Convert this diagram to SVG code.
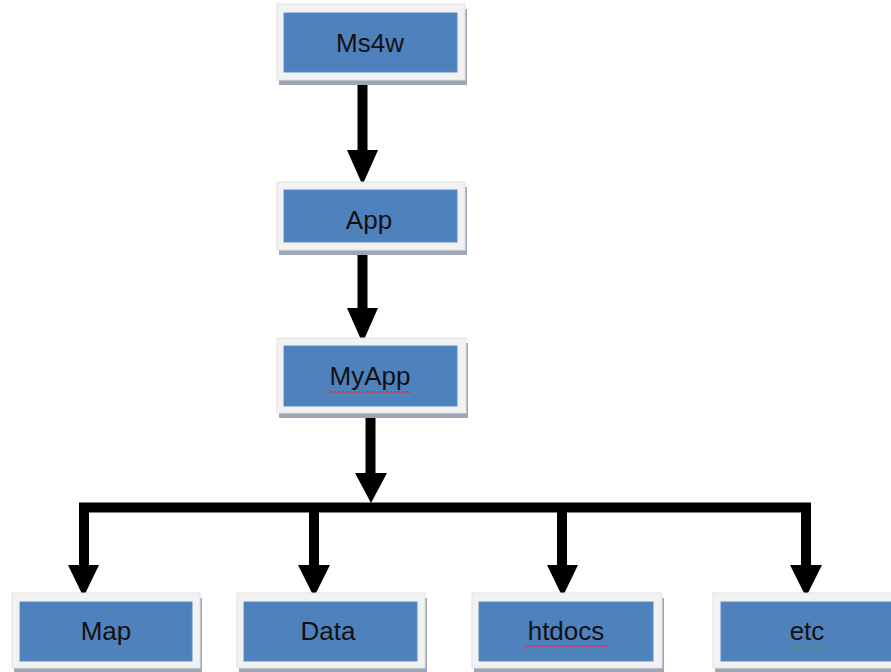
<svg xmlns="http://www.w3.org/2000/svg" width="891" height="672" viewBox="0 0 891 672">
<style>
.shadow{fill:#9CA7B6}
.frame{fill:#F2F2F2;stroke:#E2E2E2;stroke-width:1}
.box{fill:#4F81BD;stroke:#5A8CC8;stroke-width:1}
.lbl{font-family:"Liberation Sans",Arial,sans-serif;font-size:26px;fill:#111;text-anchor:middle}
.line{fill:none;stroke:#000;stroke-width:10;stroke-linejoin:miter}
.head{fill:#000}
.sqr{fill:none;stroke:#E0303A;stroke-width:1}
.sqg{fill:none;stroke:#2EA043;stroke-width:1}
</style>
<rect width="891" height="672" fill="#FFFFFF"/>
<g id="connectors">
  <line class="line" x1="362.5" y1="78" x2="362.5" y2="152"/>
  <polygon class="head" points="347,150 378,150 362.5,185"/>
  <line class="line" x1="362.5" y1="249" x2="362.5" y2="310"/>
  <polygon class="head" points="347,308 378,308 362.5,343"/>
  <line class="line" x1="370.5" y1="412" x2="370.5" y2="475"/>
  <polygon class="head" points="355,473 387,473 371,503"/>
  <path class="line" d="M84 567 V507.5 H806 V567"/>
  <polygon class="head" points="68,565 99,565 83.5,597"/>
  <line class="line" x1="314" y1="507" x2="314" y2="567"/>
  <polygon class="head" points="298,565 330,565 314,597"/>
  <line class="line" x1="562" y1="507" x2="562" y2="567"/>
  <polygon class="head" points="547,565 578,565 562.5,597"/>
  <polygon class="head" points="790,565 822,565 806,597"/>
</g>
<g id="node-ms4w">
  <rect class="shadow" x="279" y="9" width="188" height="76"/>
  <rect class="frame" x="277" y="4" width="188" height="76"/>
  <rect class="box" x="284" y="13" width="173" height="59"/>
  <text class="lbl" x="370" y="52">Ms4w</text>
</g>
<g id="node-app">
  <rect class="shadow" x="279" y="187" width="188" height="68"/>
  <rect class="frame" x="277" y="182" width="188" height="68"/>
  <rect class="box" x="284" y="190" width="173" height="52"/>
  <text class="lbl" x="369" y="229">App</text>
</g>
<g id="node-myapp">
  <rect class="shadow" x="279" y="343" width="189" height="75"/>
  <rect class="frame" x="277" y="338" width="189" height="75"/>
  <rect class="box" x="284" y="346" width="173" height="60"/>
  <text class="lbl" x="370" y="385">MyApp</text>
  <path class="sqr" d="M327 391 l2 2 l2 -2 l2 2 l2 -2 l2 2 l2 -2 l2 2 l2 -2 l2 2 l2 -2 l2 2 l2 -2 l2 2 l2 -2 l2 2 l2 -2 l2 2 l2 -2 l2 2 l2 -2 l2 2 l2 -2 l2 2 l2 -2 l2 2 l2 -2 l2 2 l2 -2 l2 2 l2 -2 l2 2 l2 -2 l2 2 l2 -2 l2 2 l2 -2 l2 2 l2 -2 l2 2 l2 -2 l2 2 l2 -2"/>
</g>
<g id="node-map">
  <rect class="shadow" x="14" y="598" width="188" height="75"/>
  <rect class="frame" x="12" y="593" width="188" height="75"/>
  <rect class="box" x="20" y="602" width="172" height="59"/>
  <text class="lbl" x="106" y="640">Map</text>
</g>
<g id="node-data">
  <rect class="shadow" x="239" y="598" width="188" height="75"/>
  <rect class="frame" x="237" y="593" width="188" height="75"/>
  <rect class="box" x="244" y="602" width="173" height="59"/>
  <text class="lbl" x="328" y="640">Data</text>
</g>
<g id="node-htdocs">
  <rect class="shadow" x="474" y="598" width="190" height="75"/>
  <rect class="frame" x="472" y="593" width="190" height="75"/>
  <rect class="box" x="479" y="602" width="174" height="59"/>
  <text class="lbl" x="566" y="640">htdocs</text>
  <path class="sqr" d="M525 645 l2 2 l2 -2 l2 2 l2 -2 l2 2 l2 -2 l2 2 l2 -2 l2 2 l2 -2 l2 2 l2 -2 l2 2 l2 -2 l2 2 l2 -2 l2 2 l2 -2 l2 2 l2 -2 l2 2 l2 -2 l2 2 l2 -2 l2 2 l2 -2 l2 2 l2 -2 l2 2 l2 -2 l2 2 l2 -2 l2 2 l2 -2 l2 2 l2 -2 l2 2 l2 -2 l2 2 l2 -2 l2 2"/>
</g>
<g id="node-etc">
  <rect class="shadow" x="715" y="598" width="190" height="75"/>
  <rect class="frame" x="713" y="593" width="190" height="75"/>
  <rect class="box" x="721" y="602" width="174" height="59"/>
  <text class="lbl" x="807" y="640">etc</text>
  <path class="sqg" d="M788 645 l2 2 l2 -2 l2 2 l2 -2 l2 2 l2 -2 l2 2 l2 -2 l2 2 l2 -2 l2 2 l2 -2 l2 2 l2 -2 l2 2 l2 -2 l2 2 l2 -2"/>
</g>
</svg>
